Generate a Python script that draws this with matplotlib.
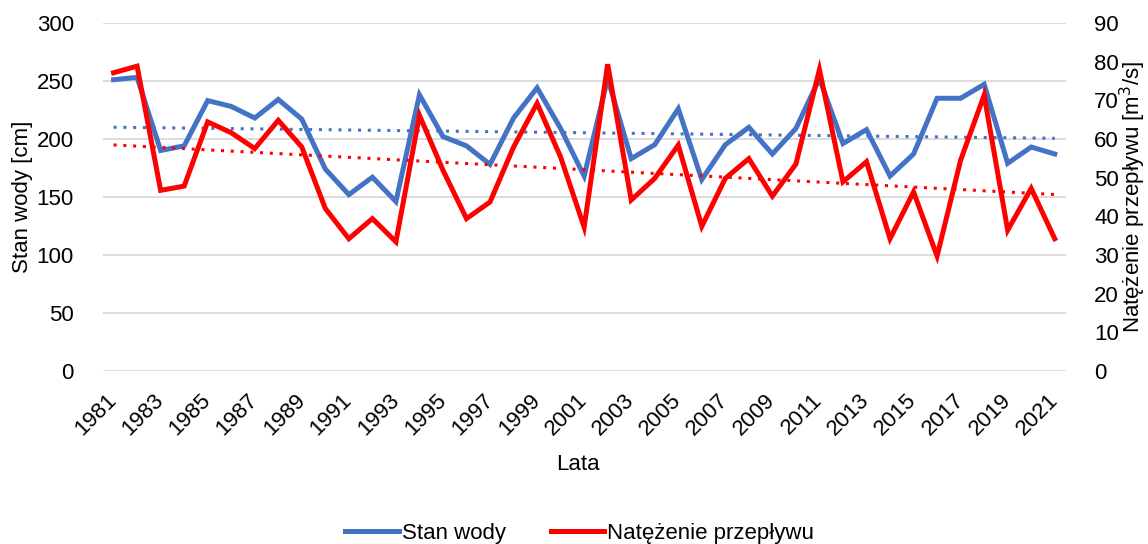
import numpy as np
import matplotlib.pyplot as plt
from matplotlib.lines import Line2D

plt.rcParams['font.family'] = ['Liberation Sans', 'DejaVu Sans']

years = np.arange(1981, 2022)
stan_wody = [251, 253, 190, 194, 233, 228, 218, 234, 217, 174, 152, 167, 146, 238,
             202, 194, 178, 218, 244, 209, 168, 252, 183, 195, 226, 165, 195, 210,
             187, 209, 252, 196, 208, 168, 187, 235, 235, 247, 179, 193, 187]
przeplyw = [77.1, 78.8, 46.7, 47.8, 64.4, 61.6, 57.5, 64.8, 57.9, 42.0, 34.2, 39.4, 33.4, 66.1,
            51.9, 39.4, 43.7, 57.9, 69.2, 55.3, 37.2, 79.3, 44.2, 49.8, 58.4, 37.4, 49.8, 54.9,
            45.2, 53.5, 77.9, 48.9, 54.1, 34.2, 46.3, 29.7, 54.5, 71.3, 36.4, 47.2, 34.2]
tick_years = np.arange(1981, 2022, 2)

blue = '#4472C4'
red = '#FF0000'
fs = 16

fig = plt.figure(figsize=(11.48, 5.44), dpi=100)
ax = fig.add_axes([0.0897, 0.318, 0.8393, 0.640])
ax2 = ax.twinx()

# trend lines from linear fit
cb = np.polyfit(years, stan_wody, 1)
cr = np.polyfit(years, przeplyw, 1)

ax.plot(years, stan_wody, color=blue, lw=3.6, solid_joinstyle='miter', zorder=3)
ax.plot(years, np.polyval(cb, years), color=blue, lw=2.2, ls=(0, (1, 2.2)), zorder=4)
ax2.plot(years, przeplyw, color=red, lw=3.6, solid_joinstyle='miter', zorder=3)
ax2.plot(years, np.polyval(cr, years), color=red, lw=2.2, ls=(0, (1, 2.2)), zorder=4)

ax.set_xlim(1980.55, 2021.5)
ax.set_ylim(0, 300)
ax2.set_ylim(0, 90)
ax.set_yticks(np.arange(0, 301, 50))
ax2.set_yticks(np.arange(0, 91, 10))
ax.set_xticks(tick_years)
ax.set_xticklabels([str(y) for y in tick_years], rotation=45, ha='right', va='center',
                   rotation_mode='anchor', fontsize=fs)
ax.grid(axis='y', color='#D9D9D9', lw=1.3)
ax.set_axisbelow(True)

for a in (ax, ax2):
    for s in a.spines.values():
        s.set_visible(False)
    a.tick_params(length=0, labelsize=fs, colors='#000000')
ax.tick_params(axis='y', pad=21)
ax2.tick_params(axis='y', pad=20)
ax.tick_params(axis='x', pad=19)

ax.set_ylabel('Stan wody [cm]', fontsize=fs, va='center')
ax.yaxis.set_label_coords(-0.084, 0.5)
ax2.set_ylabel('Natężenie przepływu [m$^3$/s]', fontsize=fs, rotation=90, va='center')
ax2.yaxis.set_label_coords(1.0685, 0.5)
fig.text(0.5035, 1 - 465 / 544, 'Lata', fontsize=fs, ha='center', va='center')

handles = [Line2D([], [], color=blue, lw=3.6), Line2D([], [], color=red, lw=3.6)]
fig.legend(handles, ['Stan wody', 'Natężenie przepływu'], loc='center',
           bbox_to_anchor=(0.505, 1 - 533 / 544), ncol=2, frameon=False, fontsize=fs,
           handlelength=2.4, handletextpad=0.15, columnspacing=2.0, borderpad=0)

fig.savefig('out.png', dpi=100)
